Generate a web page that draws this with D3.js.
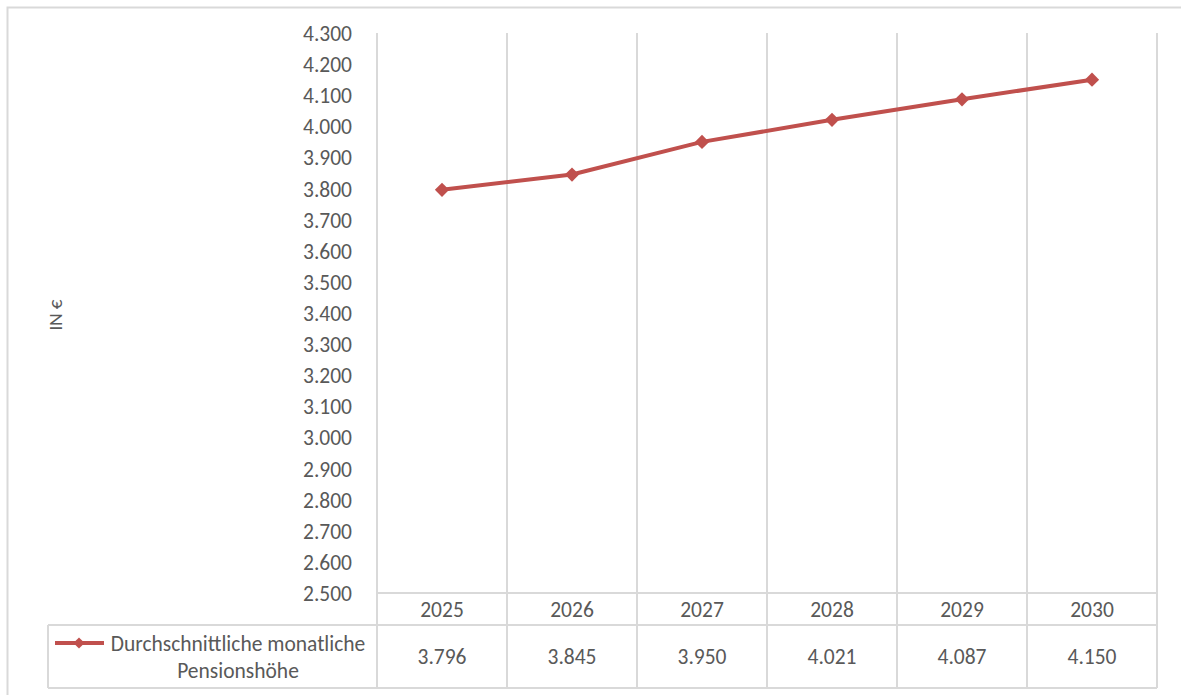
<!DOCTYPE html>
<html>
<head>
<meta charset="utf-8">
<script src="https://cdn.jsdelivr.net/npm/d3@7"></script>
<style>
  html, body { margin: 0; padding: 0; background: #fff; }
  svg { display: block; font-family: Carlito, Lato, "Open Sans", sans-serif; }
</style>
</head>
<body>
<svg id="chart" width="1181" height="695"></svg>
<script>
// Average monthly pension by year
const years = ["2025", "2026", "2027", "2028", "2029", "2030"];
const pension = [3796, 3845, 3950, 4021, 4087, 4150];
const yTicks = [2500, 2600, 2700, 2800, 2900, 3000, 3100, 3200, 3300, 3400, 3500,
                3600, 3700, 3800, 3900, 4000, 4100, 4200, 4300];
const seriesName = ["Durchschnittliche monatliche", "Pensionshöhe"];
const axisTitle = "IN €";

const svg = d3.select("#chart");
const gridCol = "#d9d9d9";
const textCol = "#595959";
const lineCol = "#c0504d";
const fontSize = "21.5px";
const fmt = d3.format(",.0f");
const de = v => fmt(v).replace(/,/g, ".");

const plotL = 377, plotR = 1157, plotT = 33, plotB = 593;
const rowY1 = 625, rowY2 = 688, legendLeft = 48;

const x = d3.scaleBand().domain(years).range([plotL, plotR]);
const y = d3.scaleLinear().domain([2500, 4300]).range([plotB, plotT]);

// outer frame
svg.append("rect").attr("x", 7.5).attr("y", 7.5).attr("width", 1190).attr("height", 700)
  .attr("fill", "none").attr("stroke", gridCol).attr("stroke-width", 2);

// vertical gridlines run from the top through the data table
const xs = years.map(d => x(d)).concat([plotR]);
svg.append("g").selectAll("line").data(xs).join("line")
  .attr("x1", d => d).attr("x2", d => d)
  .attr("y1", plotT).attr("y2", rowY2)
  .attr("stroke", gridCol).attr("stroke-width", 2);

// table horizontal rules
svg.append("line").attr("x1", plotL).attr("x2", plotR).attr("y1", plotB).attr("y2", plotB)
  .attr("stroke", gridCol).attr("stroke-width", 2);
svg.append("line").attr("x1", legendLeft).attr("x2", plotR).attr("y1", rowY1).attr("y2", rowY1)
  .attr("stroke", gridCol).attr("stroke-width", 2);
svg.append("line").attr("x1", legendLeft).attr("x2", plotR).attr("y1", rowY2).attr("y2", rowY2)
  .attr("stroke", gridCol).attr("stroke-width", 2);
svg.append("line").attr("x1", legendLeft).attr("x2", legendLeft).attr("y1", rowY1).attr("y2", rowY2)
  .attr("stroke", gridCol).attr("stroke-width", 2);

// y axis labels
const yAxis = d3.axisLeft(y).tickValues(yTicks).tickFormat(de).tickSize(0).tickPadding(0);
const ya = svg.append("g").attr("transform", `translate(${plotL},0)`).call(yAxis);
ya.select(".domain").remove();
ya.selectAll("text").attr("x", -25).attr("fill", textCol)
  .style("font-size", fontSize).style("font-family", "Carlito, Lato, 'Open Sans', sans-serif")
  .attr("dy", "0.35em").attr("text-anchor", "end");

// axis title
svg.append("text").attr("transform", "translate(55,315) rotate(-90)")
  .attr("text-anchor", "middle").attr("dy", "0.35em").attr("fill", textCol).style("font-size", "19px")
  .text(axisTitle);

// category labels row
svg.append("g").selectAll("text").data(years).join("text")
  .attr("x", d => x(d) + x.bandwidth() / 2).attr("y", (plotB + rowY1) / 2)
  .attr("dy", "0.35em").attr("text-anchor", "middle").attr("fill", textCol)
  .style("font-size", fontSize).text(d => d);

// values row
svg.append("g").selectAll("text").data(years).join("text")
  .attr("x", d => x(d) + x.bandwidth() / 2).attr("y", (rowY1 + rowY2) / 2)
  .attr("dy", "0.35em").attr("text-anchor", "middle").attr("fill", textCol)
  .style("font-size", fontSize).text((d, i) => de(pension[i]));

// legend key in the table
const ly = 643;
svg.append("line").attr("x1", 55).attr("x2", 104).attr("y1", ly).attr("y2", ly)
  .attr("stroke", lineCol).attr("stroke-width", 4);
svg.append("path").attr("d", d3.symbol().type(d3.symbolDiamond2).size(80))
  .attr("transform", `translate(79,${ly})`).attr("fill", lineCol);
svg.append("text").attr("x", 238).attr("y", ly).attr("dy", "0.35em")
  .attr("text-anchor", "middle").attr("fill", textCol).style("font-size", fontSize).text(seriesName[0]);
svg.append("text").attr("x", 238).attr("y", 670).attr("dy", "0.35em")
  .attr("text-anchor", "middle").attr("fill", textCol).style("font-size", fontSize).text(seriesName[1]);

// series line and markers
const cx = d => x(d) + x.bandwidth() / 2;
const line = d3.line().x((d, i) => cx(years[i])).y(d => y(d));
svg.append("path").datum(pension).attr("d", line)
  .attr("fill", "none").attr("stroke", lineCol).attr("stroke-width", 4)
  .attr("stroke-linejoin", "round");
svg.append("g").selectAll("path").data(pension).join("path")
  .attr("d", d3.symbol().type(d3.symbolDiamond2).size(130))
  .attr("transform", (d, i) => `translate(${cx(years[i])},${y(d)})`)
  .attr("fill", lineCol);
</script>
</body>
</html>
